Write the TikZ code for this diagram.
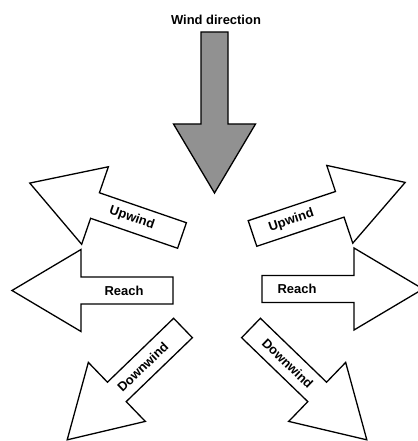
\documentclass[tikz,border=0pt]{standalone}
\usepackage{fontspec}
\setsansfont{Liberation Sans}
\usepackage{tikz}
\usetikzlibrary{positioning}
\definecolor{cWind}{RGB}{145, 145, 145}
\definecolor{tDark}{RGB}{0, 0, 0}

% outline of one big arrow, shaft end at the origin, pointing along +x
\newcommand{\arrowpath}{(0,-13.5) -- (92,-13.5) -- (92,-41) -- (161,0) -- (92,41) -- (92,13.5) -- (0,13.5) -- cycle}

\begin{document}
\begin{tikzpicture}[
    x=1bp, y=1bp,
    font=\sffamily\bfseries\fontsize{13}{15}\selectfont,
    outline/.style={draw=tDark, line width=1.3bp, line join=miter, fill=#1},
    outline/.default=white,
    lbl/.style={text=tDark, inner sep=0pt}
]
\useasboundingbox (0,0) rectangle (417,441);

% Wind
\node[lbl] (wind) at (216, 421) {Wind direction};
\begin{scope}[shift={(214.5,409)}, rotate=-90]
    \draw[outline=cWind] \arrowpath;
\end{scope}

% Left side
\begin{scope}[shift={(182,205.5)}, rotate=161]
    \draw[outline] \arrowpath;
    \node[lbl, rotate=-19] (upL) at (53,0) {Upwind};
\end{scope}
\begin{scope}[shift={(173,150.5)}, rotate=180]
    \draw[outline] \arrowpath;
    \node[lbl] (reachL) at (49,0) {Reach};
\end{scope}
\begin{scope}[shift={(183,113)}, rotate=224]
    \draw[outline] \arrowpath;
    \node[lbl, rotate=44] (downL) at (56,0) {Downwind};
\end{scope}

% Right side
\begin{scope}[shift={(252.5,207.5)}, rotate=18.5]
    \draw[outline] \arrowpath;
    \node[lbl, rotate=18.5] (upR) at (41,0) {Upwind};
\end{scope}
\begin{scope}[shift={(262,152)}, rotate=0]
    \draw[outline] \arrowpath;
    \node[lbl] (reachR) at (35,0) {Reach};
\end{scope}
\begin{scope}[shift={(251,113)}, rotate=316]
    \draw[outline] \arrowpath;
    \node[lbl, rotate=-44] (downR) at (51,0) {Downwind};
\end{scope}

\end{tikzpicture}
\end{document}
